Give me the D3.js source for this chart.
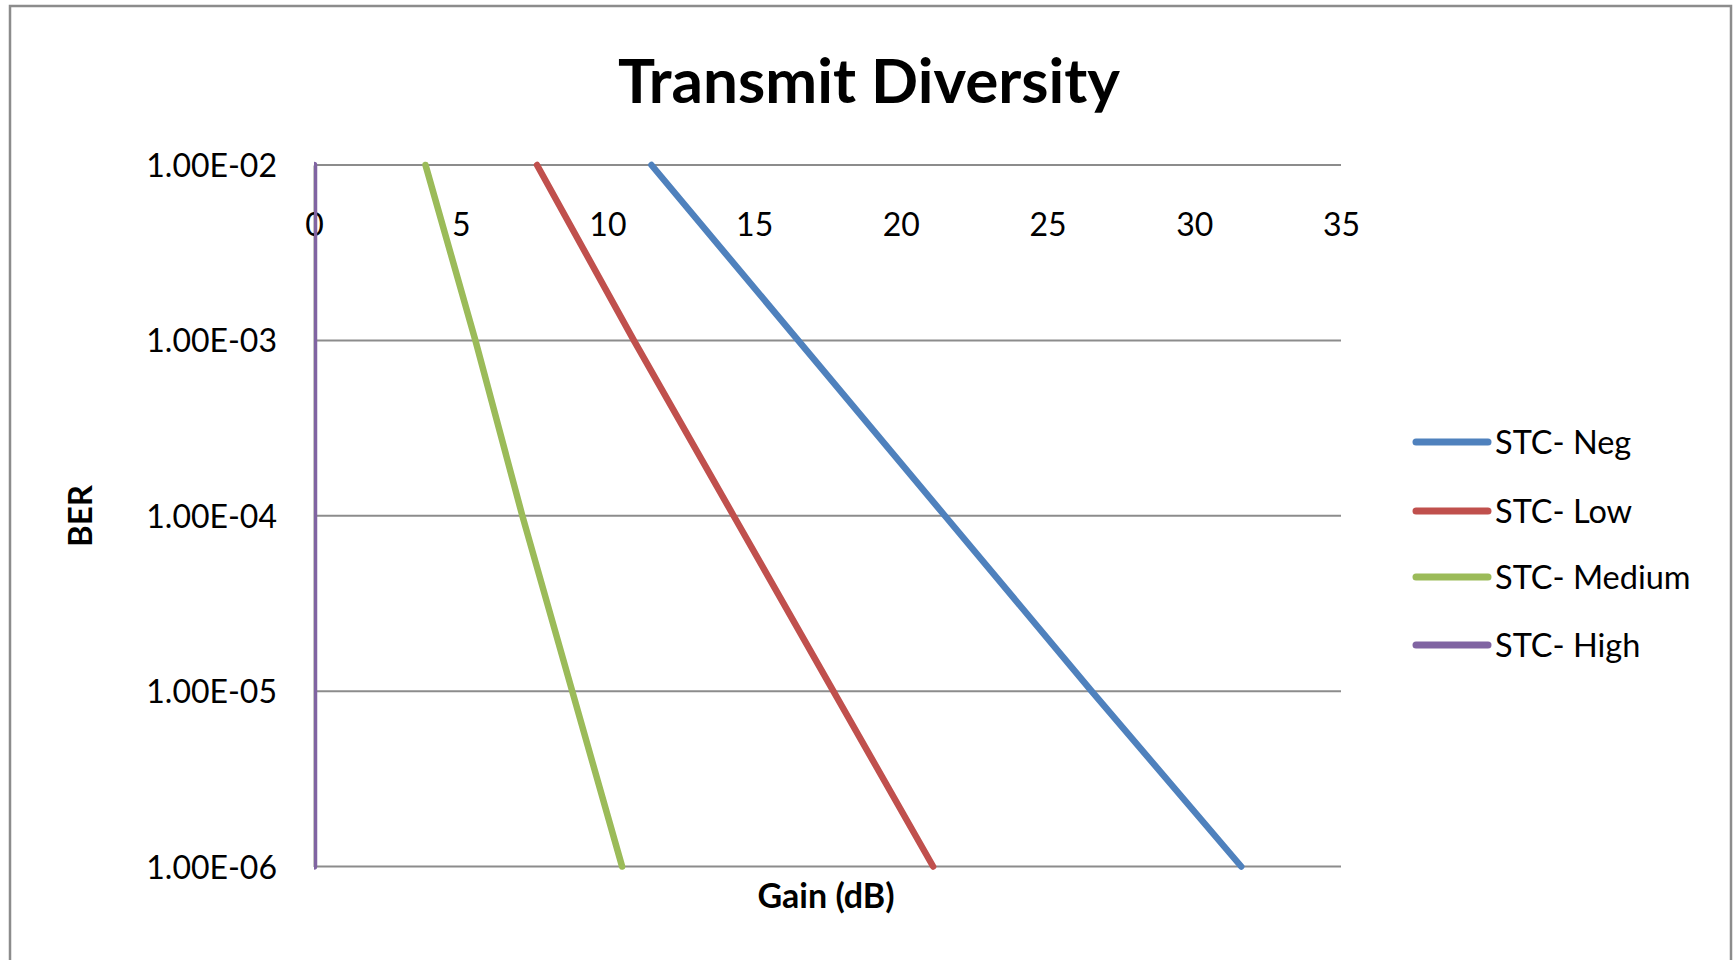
<!DOCTYPE html>
<html>
<head>
<meta charset="utf-8">
<script src="https://cdn.jsdelivr.net/npm/d3@7"></script>
<style>
  html, body { margin: 0; padding: 0; background: #fff; }
  svg { display: block; font-family: Lato, "Open Sans", sans-serif; }
</style>
</head>
<body>
<svg id="chart" width="1733" height="960"></svg>
<script>
// ---- data ----
const berLevels = [1e-2, 1e-3, 1e-4, 1e-5, 1e-6];
const seriesNames = ["STC- Neg", "STC- Low", "STC- Medium", "STC- High"];
const stcNeg    = [11.5, 16.5, 21.5, 26.5, 31.6];
const stcLow    = [7.6, 10.9, 14.3, 17.7, 21.1];
const stcMedium = [3.8, 5.5, 7.1, 8.8, 10.5];
const stcHigh   = [0, 0, 0, 0, 0];
const seriesColors = ["#4F81BD", "#C0504D", "#9BBB59", "#8064A2"];
const xTicks = [0, 5, 10, 15, 20, 25, 30, 35];
const yTicks = [1e-2, 1e-3, 1e-4, 1e-5, 1e-6];
const yTickLabels = ["1.00E-02", "1.00E-03", "1.00E-04", "1.00E-05", "1.00E-06"];
const titleText = "Transmit Diversity";
const xTitle = "Gain (dB)";
const yTitle = "BER";

const seriesValues = [stcNeg, stcLow, stcMedium, stcHigh];
const series = seriesNames.map((name, i) => ({
  name, color: seriesColors[i],
  points: berLevels.map((b, j) => ({ x: seriesValues[i][j], y: b }))
}));

// ---- layout ----
const svg = d3.select("#chart");
const plot = { left: 314, right: 1341, top: 165, bottom: 866.5 };

const x = d3.scaleLinear().domain([0, 35]).range([plot.left, plot.right]);
const y = d3.scaleLog().domain([1e-6, 1e-2]).range([plot.bottom, plot.top]);

// outer border
svg.append("rect")
  .attr("x", 10).attr("y", 6).attr("width", 1721).attr("height", 1000)
  .attr("fill", "#fff").attr("stroke", "#8c8c8c").attr("stroke-width", 2.5);

// title
svg.append("text")
  .attr("x", 869).attr("y", 103)
  .attr("text-anchor", "middle")
  .attr("font-weight", "bold").attr("font-size", 62)
  .attr("fill", "#000")
  .text(titleText);

// horizontal gridlines
svg.append("g")
  .selectAll("line").data(yTicks).join("line")
  .attr("x1", plot.left).attr("x2", plot.right)
  .attr("y1", d => y(d)).attr("y2", d => y(d))
  .attr("stroke", "#8c8c8c").attr("stroke-width", 2);

// y axis labels
const yAxis = d3.axisLeft(y).tickValues(yTicks)
  .tickFormat((d, i) => yTickLabels[i]).tickSize(0).tickPadding(37);
const gy = svg.append("g").attr("transform", `translate(${plot.left},0)`).call(yAxis);
gy.select(".domain").attr("stroke", "#8c8c8c").attr("stroke-width", 2);
gy.selectAll("text").attr("font-size", 32).attr("fill", "#000")
  .attr("font-family", "Lato, sans-serif").attr("dy", "0.36em");

// x axis labels (axis crosses at top, labels drawn below the line)
const xAxis = d3.axisBottom(x).tickValues(xTicks).tickSize(0).tickPadding(0);
const gx = svg.append("g").attr("transform", `translate(0,${plot.top})`).call(xAxis);
gx.select(".domain").remove();
gx.selectAll("text").attr("font-size", 32).attr("fill", "#000")
  .attr("font-family", "Lato, sans-serif").attr("dy", null).attr("y", 71);

// clip
svg.append("clipPath").attr("id", "plotclip")
  .append("rect")
  .attr("x", plot.left).attr("y", plot.top - 4)
  .attr("width", plot.right - plot.left + 4).attr("height", plot.bottom - plot.top + 8);

const line = d3.line().x(d => x(d.x)).y(d => y(d.y));
svg.append("g").attr("clip-path", "url(#plotclip)")
  .selectAll("path").data(series.slice().reverse()).join("path")
  .attr("d", d => line(d.points))
  .attr("fill", "none")
  .attr("stroke", d => d.color)
  .attr("stroke-width", 6.5)
  .attr("stroke-linecap", "round");

// axis titles
svg.append("text")
  .attr("x", 826).attr("y", 908)
  .attr("text-anchor", "middle")
  .attr("font-weight", "bold").attr("font-size", 34)
  .text(xTitle);

svg.append("text")
  .attr("transform", "translate(92,516) rotate(-90)")
  .attr("text-anchor", "middle")
  .attr("font-weight", "bold").attr("font-size", 33)
  .text(yTitle);

// legend
const legendY = [442, 511, 577, 645];
const lg = svg.append("g").selectAll("g").data(series).join("g")
  .attr("transform", (d, i) => `translate(1416,${legendY[i]})`);
lg.append("line")
  .attr("x1", 0).attr("x2", 72).attr("y1", 0).attr("y2", 0)
  .attr("stroke", d => d.color).attr("stroke-width", 7).attr("stroke-linecap", "round");
lg.append("text")
  .attr("x", 79).attr("y", 0).attr("dy", "0.36em")
  .attr("font-size", 32.5).attr("fill", "#000")
  .text(d => d.name);
</script>
</body>
</html>
